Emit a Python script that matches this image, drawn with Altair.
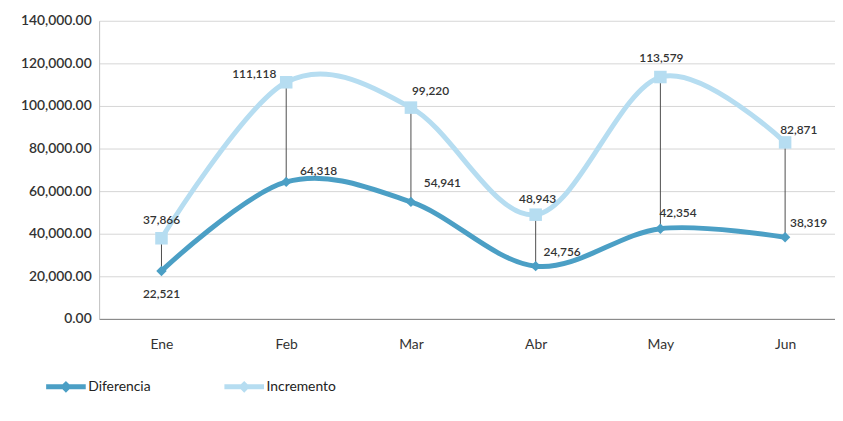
import json
import altair as alt
import pandas as pd

months = ["Ene", "Feb", "Mar", "Abr", "May", "Jun"]
diferencia = [22521, 64318, 54941, 24756, 42354, 38319]
incremento = [37866, 111118, 99220, 48943, 113579, 82871]
y_ticks = [0, 20000, 40000, 60000, 80000, 100000, 120000, 140000]
series = ["Diferencia", "Incremento"]
colors = ["#4b9fc5", "#b6ddf1"]

idx = list(range(len(months)))
wide = pd.DataFrame({"i": idx, "mes": months,
                     "Diferencia": diferencia, "Incremento": incremento})
long = wide.melt(id_vars=["i", "mes"], value_vars=series,
                 var_name="serie", value_name="valor")
long["etiqueta"] = long["valor"].map(lambda v: f"{v:,}")

FONT = "Lato"
label_expr = json.dumps(months) + "[datum.value]"

x = alt.X("i:Q",
          scale=alt.Scale(domain=[-0.5, 5.4], nice=False, zero=False),
          axis=alt.Axis(values=idx, labelExpr=label_expr, title=None, grid=False,
                        ticks=False, domain=True, domainColor="#7f7f7f",
                        labelPadding=19, labelFontSize=14, labelColor="#333333",
                        labelFont=FONT))
y = alt.Y("valor:Q",
          scale=alt.Scale(domain=[0, 140000], nice=False),
          axis=alt.Axis(values=y_ticks, format=",.2f", title=None, grid=True,
                        gridColor="#d6d6d6", ticks=False, domain=True,
                        domainColor="#bfbfbf", labelPadding=8, labelFontSize=14,
                        labelColor="#333333", labelFont=FONT, labelFontWeight=600))

base = alt.Chart(long)

legend_symbol = "M-1,0H1M0,-0.12L0.12,0L0,0.12L-0.12,0Z"

lines = base.mark_line(interpolate="cardinal", strokeWidth=5).encode(
    x=x, y=y,
    color=alt.Color("serie:N",
                    scale=alt.Scale(domain=series, range=colors),
                    legend=alt.Legend(orient="none", legendX=-56, legendY=347,
                                      direction="horizontal", title=None,
                                      symbolType=legend_symbol, symbolSize=1600,
                                      symbolStrokeWidth=5, labelFontSize=14,
                                      labelFont=FONT, labelColor="#222222",
                                      labelOffset=0, columnPadding=64)),
)

rules = alt.Chart(wide).mark_rule(color="#4d4d4d", strokeWidth=1).encode(
    x="i:Q", y="Incremento:Q", y2="Diferencia:Q")

pts_dif = base.transform_filter(alt.datum.serie == "Diferencia").mark_point(
    filled=True, shape="diamond", size=110, color=colors[0], opacity=1).encode(x="i:Q", y="valor:Q")
pts_inc = base.transform_filter(alt.datum.serie == "Incremento").mark_point(
    filled=True, shape="square", size=160, color=colors[1], opacity=1).encode(x="i:Q", y="valor:Q")


def labels(serie, which, **kw):
    expr = f"datum.serie === '{serie}' && indexof({json.dumps(which)}, datum.mes) >= 0"
    return base.transform_filter(expr).mark_text(
        font=FONT, fontSize=12, fontWeight=600, color="#333333", **kw).encode(
        x="i:Q", y="valor:Q", text="etiqueta:N")


text_layers = [
    labels("Incremento", ["Ene"], align="center", dy=-18),
    labels("Incremento", ["Abr"], align="center", dx=2, dy=-16),
    labels("Incremento", ["May"], align="center", dx=1, dy=-19),
    labels("Incremento", ["Feb"], align="right", dx=-10, dy=-8),
    labels("Incremento", ["Mar"], align="left", dx=1, dy=-17),
    labels("Incremento", ["Jun"], align="left", dx=-5, dy=-12),
    labels("Diferencia", ["Ene"], align="center", dy=23),
    labels("Diferencia", ["Feb"], align="left", dx=14, dy=-11),
    labels("Diferencia", ["Mar"], align="left", dx=13, dy=-19),
    labels("Diferencia", ["Abr"], align="left", dx=8, dy=-14),
    labels("Diferencia", ["May"], align="left", dx=-1, dy=-16),
    labels("Diferencia", ["Jun"], align="left", dx=5, dy=-14),
]

chart = alt.layer(lines, rules, pts_dif, pts_inc, *text_layers).properties(
    width=743, height=301,
    autosize=alt.AutoSizeParams(type="none"),
    padding={"left": 92, "top": 11, "right": 0, "bottom": 80},
).configure(background="white").configure_view(strokeWidth=0, stroke="transparent")

chart.save("out.html", embed_options={"renderer": "svg", "actions": False})
